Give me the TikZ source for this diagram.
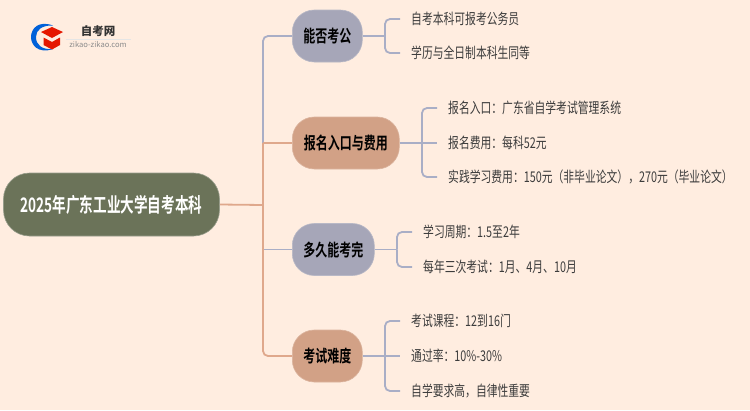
\documentclass[tikz,border=0pt]{standalone}
\usepackage{fontspec}
\setmainfont{Noto Sans CJK SC}
\newfontfamily\leaffont[FakeStretch=0.73]{Noto Sans CJK SC}
\newfontfamily\hubfont[FakeStretch=0.705,BoldFont={Noto Sans CJK SC Bold}]{Noto Sans CJK SC}
\newfontfamily\rootfont[FakeStretch=0.68,BoldFont={Noto Sans CJK SC Bold}]{Noto Sans CJK SC}
\definecolor{pagebg}{HTML}{FFEDE0}
\definecolor{rootfill}{HTML}{6B7359}
\definecolor{bluefill}{HTML}{A6A6B8}
\definecolor{salmonfill}{HTML}{D2A186}
\definecolor{blueline}{HTML}{A9AEC6}
\definecolor{salmonline}{HTML}{DFA88C}
\definecolor{leaftext}{HTML}{3C3C3C}
\tikzset{
  hub/.style={rounded corners=22pt,inner sep=0pt,minimum height=52pt,anchor=west,
    font=\hubfont\fontsize{17}{19}\selectfont\bfseries,text=black},
  bluehub/.style={hub,fill=bluefill,draw=bluefill!80!white,line width=.6pt},
  salmonhub/.style={hub,fill=salmonfill,draw=salmonfill!80!white,line width=.6pt},
  roothub/.style={rounded corners=26pt,inner sep=0pt,minimum height=63pt,minimum width=216pt,
    fill=rootfill,draw=rootfill!70!white,line width=.6pt,text=white,
    font=\rootfont\fontsize{20}{22}\selectfont\bfseries},
  leaf/.style={anchor=west,inner xsep=11pt,inner ysep=0pt,text=leaftext,
    font=\leaffont\fontsize{14.8}{16}\selectfont},
  conn/.style={line width=1.8pt,rounded corners=5pt},
  blueconn/.style={conn,draw=blueline},
  salmonconn/.style={conn,draw=salmonline},
}
\begin{document}
\begin{tikzpicture}[x=1pt,y=-1pt]
\fill[pagebg] (0,0) rectangle (750,410);
\useasboundingbox (0,0) rectangle (750,410);

% logo
\fill[blue!55!cyan!85!black] (53,25.5) .. controls (38,20) and (31,29) .. (31,37)
  .. controls (31,45) and (38,54) .. (53,49)
  .. controls (42,50) and (36,45) .. (36,37)
  .. controls (36,30) and (42,25) .. (53,25.5) -- cycle;
\fill[red!80!orange!90!black] (41,32) -- (52,27) -- (63,32) -- (52,38) -- cycle;
\fill[red!80!orange!90!black] (43.5,37.5) -- (52,42) -- (60,37.5) -- (60,45) -- (52,49.5) -- (43.5,45) -- cycle;
\node[inner sep=0pt,font=\fontsize{11.5}{13}\selectfont\bfseries,text=black!80] (logotitle) at (98,31) {自考网};
\node[inner sep=0pt,font=\fontsize{7.6}{9}\selectfont,text=black!45] (logosub) at (98,45) {zikao-zikao.com};
\draw[black!10,line width=.5pt] (66,39) -- (131,39);

% hubs
\node[roothub] (root) at (111.5,204.5) {2025年广东工业大学自考本科};
\node[bluehub,minimum width=70pt] (a) at (292,36) {能否考公};
\node[salmonhub,minimum width=107pt] (b) at (292,143) {报名入口与费用};
\node[bluehub,minimum width=82pt] (c) at (292,249.5) {多久能考完};
\node[salmonhub,minimum width=70pt] (d) at (292,356) {考试难度};

% leaves
\node[leaf] (a1) at (400,19) {自考本科可报考公务员};
\node[leaf] (a2) at (400,53) {学历与全日制本科生同等};
\node[leaf] (b1) at (437,108) {报名入口：广东省自学考试管理系统};
\node[leaf] (b2) at (437,143) {报名费用：每科52元};
\node[leaf] (b3) at (437,177) {实践学习费用：150元（非毕业论文），270元（毕业论文）};
\node[leaf] (c1) at (412,232) {学习周期：1.5至2年};
\node[leaf] (c2) at (412,267) {每年三次考试：1月、4月、10月};
\node[leaf] (d1) at (400,321) {考试课程：12到16门};
\node[leaf] (d2) at (400,356) {通过率：10\%-30\%};
\node[leaf] (d3) at (400,391) {自学要求高，自律性重要};

% junctions
\coordinate (spine) at (263,205);
\coordinate (spineb) at (263,143);
\coordinate (ja) at (385,36);
\coordinate (jb) at (422,143);
\coordinate (jc) at (397,249.5);
\coordinate (jd) at (385,356);

% trunk
\draw[blueconn] (spineb) |- (a.west);
\draw[blueconn,rounded corners=0pt] (c.west) -- (spine |- c.west);
\draw[salmonconn] (spineb) -- (spine) |- (d.west);
\draw[salmonconn,rounded corners=0pt] (spineb) -- (b.west);
\draw[salmonconn,rounded corners=0pt] (root.east) -- (spine);

% branches
\draw[blueconn] (a.east) -- (ja);
\draw[blueconn] (ja) |- (a1.west);
\draw[blueconn] (ja) |- (a2.west);
\draw[blueconn] (b.east) -- (jb);
\draw[blueconn] (jb) |- (b1.west);
\draw[blueconn] (jb) -- (b2.west);
\draw[blueconn] (jb) |- (b3.west);
\draw[blueconn] (c.east) -- (jc);
\draw[blueconn] (jc) |- (c1.west);
\draw[blueconn] (jc) |- (c2.west);
\draw[blueconn] (d.east) -- (jd);
\draw[blueconn] (jd) |- (d1.west);
\draw[blueconn] (jd) -- (d2.west);
\draw[blueconn] (jd) |- (d3.west);
\end{tikzpicture}
\end{document}
